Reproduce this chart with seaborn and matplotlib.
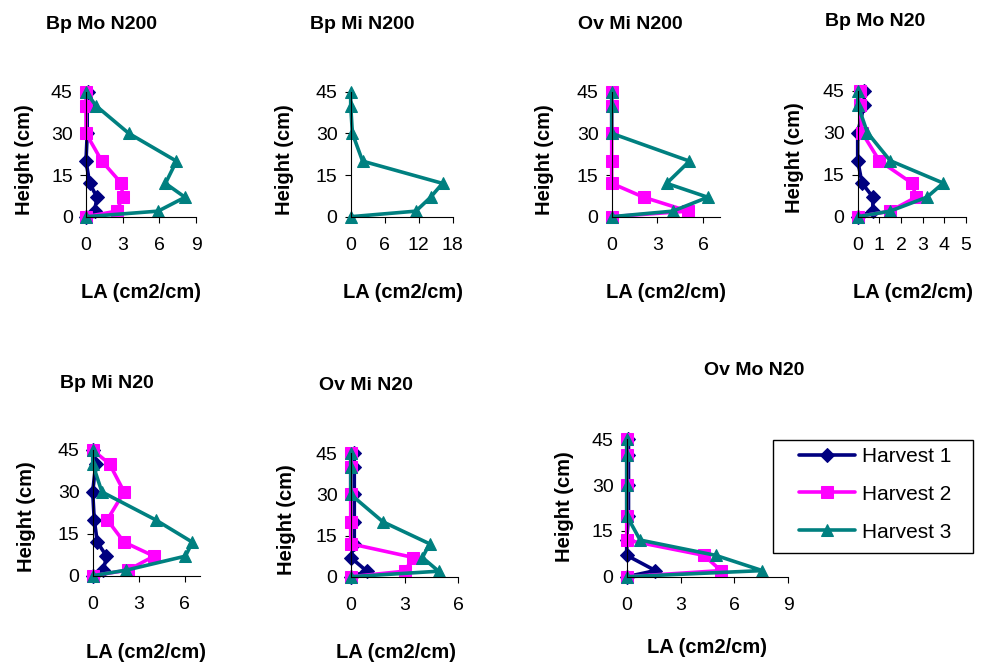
import matplotlib
matplotlib.use("Agg")
import matplotlib.pyplot as plt
import matplotlib.patches as mpatches
import pandas as pd
import seaborn as sns

sns.set_theme(style="white")
plt.rcParams["font.family"] = ["Liberation Sans", "DejaVu Sans"]
plt.rcParams["text.color"] = "black"
plt.rcParams["xtick.color"] = "black"
plt.rcParams["ytick.color"] = "black"

# Hoehen der Messschichten (cm)
heights = [0, 2, 7, 12, 20, 30, 40, 45]

# Blattflaeche LA (cm2/cm) je Ernte, Werte von unten nach oben
bp_mo_n200_h1 = [0, 0.7, 0.9, 0.3, 0, 0.1, 0.1, 0.2]
bp_mo_n200_h2 = [0, 2.5, 3.0, 2.9, 1.3, 0, 0, 0]
bp_mo_n200_h3 = [0, 5.9, 8.1, 6.5, 7.4, 3.5, 0.8, 0]

bp_mi_n200_h3 = [0, 11.5, 14.1, 16.2, 2.1, 0.3, 0, 0]

ov_mi_n200_h2 = [0, 5.0, 2.1, 0, 0, 0, 0, 0]
ov_mi_n200_h3 = [0, 4.0, 6.3, 3.6, 5.1, 0, 0, 0]

bp_mo_n20_h1 = [0, 0.7, 0.7, 0.2, 0, 0, 0.3, 0.3]
bp_mo_n20_h2 = [0, 1.5, 2.7, 2.5, 1.0, 0.2, 0.1, 0.1]
bp_mo_n20_h3 = [0, 1.5, 3.2, 3.95, 1.5, 0.45, 0, 0]

bp_mi_n20_h1 = [0, 0.7, 0.9, 0.3, 0.1, 0, 0.2, 0]
bp_mi_n20_h2 = [0, 2.3, 4.0, 2.05, 0.95, 2.05, 1.1, 0]
bp_mi_n20_h3 = [0, 2.2, 6.05, 6.5, 4.1, 0.6, 0, 0]

ov_mi_n20_h1 = [0, 0.9, 0, 0.2, 0.2, 0.2, 0.2, 0.2]
ov_mi_n20_h2 = [0, 3.0, 3.5, 0, 0, 0, 0, 0]
ov_mi_n20_h3 = [0, 4.9, 4.0, 4.4, 1.8, 0, 0, 0]

ov_mo_n20_h1 = [0, 1.6, 0, 0, 0.1, 0.1, 0.1, 0.1]
ov_mo_n20_h2 = [0, 5.25, 4.3, 0, 0, 0, 0, 0]
ov_mo_n20_h3 = [0, 7.55, 4.95, 0.75, 0, 0, 0, 0]

harvests = ["Harvest 1", "Harvest 2", "Harvest 3"]
colors = ["#000080", "#FF00FF", "#008080"]
markers = ["D", "s", "^"]
msizes = [7, 8, 9]

W, H = 983, 664
fig = plt.figure(figsize=(W / 100, H / 100), dpi=100)


def px_axes(left, right, top, bottom):
    return fig.add_axes([left / W, 1 - bottom / H, (right - left) / W, (bottom - top) / H])


panels = [
    # titel, serien, xmax, xticks, axes-px, titel-px, xlabel-px, ylabel-px
    ("Bp Mo N200", [bp_mo_n200_h1, bp_mo_n200_h2, bp_mo_n200_h3], 9, [0, 3, 6, 9],
     (86, 196, 91.7, 216.7), (102, 29), (141, 298), (24, 160)),
    ("Bp Mi N200", [None, None, bp_mi_n200_h3], 18, [0, 6, 12, 18],
     (350.7, 452.7, 91.7, 216.7), (362, 29), (403, 298), (285, 160)),
    ("Ov Mi N200", [None, ov_mi_n200_h2, ov_mi_n200_h3], 7.1, [0, 3, 6],
     (611.7, 720, 91.7, 216.7), (630, 29), (666, 298), (544, 160)),
    ("Bp Mo N20", [bp_mo_n20_h1, bp_mo_n20_h2, bp_mo_n20_h3], 5, [0, 1, 2, 3, 4, 5],
     (857.7, 966, 90.7, 216.7), (875, 26), (913, 298), (794, 158)),
    ("Bp Mi N20", [bp_mi_n20_h1, bp_mi_n20_h2, bp_mi_n20_h3], 7, [0, 3, 6],
     (92.7, 200, 450, 575.7), (107, 388), (146, 658), (27, 517)),
    ("Ov Mi N20", [ov_mi_n20_h1, ov_mi_n20_h2, ov_mi_n20_h3], 6, [0, 3, 6],
     (350.7, 458.3, 453.3, 576.7), (366, 390), (396, 658), (286, 520)),
    ("Ov Mo N20", [ov_mo_n20_h1, ov_mo_n20_h2, ov_mo_n20_h3], 9, [0, 3, 6, 9],
     (626.7, 788.3, 439.3, 576.7), (754, 375), (707, 653), (565, 507)),
]

for title, series, xmax, xticks, box, tpos, xlpos, ylpos in panels:
    ax = px_axes(*box)
    for vals, name, c, m, ms in zip(series, harvests, colors, markers, msizes):
        if vals is None:
            continue
        df = pd.DataFrame({"LA": vals, "Height": heights})
        sns.lineplot(data=df, x="LA", y="Height", sort=False, estimator=None, ax=ax,
                     color=c, marker=m, markersize=ms, markeredgecolor=c,
                     linewidth=2.6, label=name, clip_on=False, legend=False)
    ax.set_xlim(0, xmax)
    ax.set_ylim(0, 45)
    ax.set_xticks(xticks)
    ax.set_yticks([0, 15, 30, 45])
    ax.set_xlabel("")
    ax.set_ylabel("")
    ax.set_facecolor("none")
    for s in ["top", "right"]:
        ax.spines[s].set_visible(False)
    for s in ["left", "bottom"]:
        ax.spines[s].set_color("black")
        ax.spines[s].set_linewidth(0.8)
    ax.tick_params(axis="both", direction="out", length=4.5, width=0.8, color="black",
                   labelcolor="black", labelsize=14, bottom=True, left=True)
    ax.tick_params(axis="x", pad=10)
    ax.tick_params(axis="y", pad=5)
    fig.text(tpos[0] / W, 1 - tpos[1] / H, title, ha="center", va="baseline",
             fontsize=14, fontweight="bold")
    fig.text(xlpos[0] / W, 1 - xlpos[1] / H, "LA (cm2/cm)", ha="center", va="baseline",
             fontsize=14.5, fontweight="bold")
    fig.text(ylpos[0] / W, 1 - ylpos[1] / H, "Height (cm)", ha="center", va="center",
             rotation=90, fontsize=14.5, fontweight="bold")
    last_ax = ax

# Legende mit eigenem Rahmen
handles, labels = last_ax.get_legend_handles_labels()
fig.legend(handles, labels, loc="upper left", frameon=False,
           bbox_to_anchor=(799 / W, 1 - 447 / H), bbox_transform=fig.transFigure,
           fontsize=15, borderpad=0, borderaxespad=0, handlelength=2.7,
           handletextpad=0.3, labelspacing=0.9)
fig.add_artist(mpatches.Rectangle((772.7 / W, 1 - 553 / H), (973 - 772.7) / W, (553 - 440) / H,
                                  transform=fig.transFigure, fill=False,
                                  edgecolor="black", linewidth=1))

fig.savefig("out.png", dpi=100)
